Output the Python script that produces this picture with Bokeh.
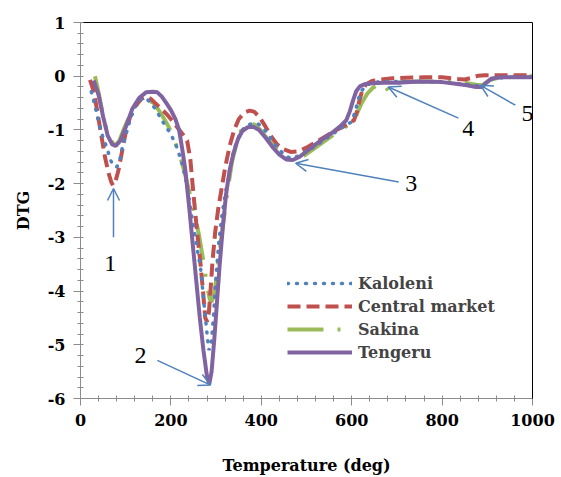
from bokeh.plotting import figure
from bokeh.models import (Range1d, SingleIntervalTicker, FixedTicker, LinearAxis, Legend, LegendItem,
                          Arrow, OpenHead, ColumnDataSource)
from bokeh.core.properties import value
from bokeh.embed import file_html
from bokeh.resources import INLINE

# ---------------- data ----------------
kaloleni_x = [24, 32, 40, 50, 59, 66, 72, 80, 86, 92, 100, 110, 122, 135, 145, 155, 165, 172, 180, 190,
              200, 212, 224, 235, 246, 256, 266, 274, 280, 284, 289, 294, 300, 306, 312, 320, 328, 336,
              345, 355, 367, 380, 392, 405, 420, 438, 455, 470, 490, 520, 550, 580, 600, 608, 615, 622,
              632, 645, 665, 700, 750, 800, 840, 870, 888, 900, 915, 950, 1000]
kaloleni_y = [-0.29, -0.55, -0.85, -1.15, -1.35, -1.55, -1.66, -1.69, -1.6, -1.35, -1.1, -0.8, -0.55,
              -0.42, -0.4, -0.5, -0.6, -0.7, -0.82, -0.95, -1.08, -1.3, -1.6, -2.0, -2.6, -3.1, -3.6,
              -4.3, -4.8, -5.1, -5.0, -4.5, -3.7, -3.1, -2.65, -2.2, -1.85, -1.5, -1.22, -1.03, -0.92,
              -0.88, -0.88, -0.97, -1.15, -1.35, -1.5, -1.53, -1.45, -1.3, -1.12, -0.95, -0.85, -0.65,
              -0.42, -0.27, -0.17, -0.12, -0.1, -0.1, -0.1, -0.11, -0.14, -0.17, -0.18, -0.1, -0.04,
              -0.02, -0.02]

central_x = [21, 30, 38, 46, 54, 62, 68, 72, 77, 84, 92, 100, 110, 122, 135, 145, 155, 165, 178, 190,
             202, 214, 226, 236, 243, 250, 258, 265, 271, 276, 280, 284, 288, 292, 298, 305, 312, 320,
             330, 340, 350, 362, 374, 384, 395, 408, 420, 435, 450, 465, 480, 500, 530, 560, 590, 605,
             612, 618, 624, 632, 645, 665, 690, 720, 760, 800, 835, 850, 865, 880, 895, 930, 1000]
central_y = [-0.07, -0.3, -0.7, -1.1, -1.5, -1.8, -1.97, -2.03, -1.97, -1.75, -1.4, -1.05, -0.75, -0.55,
             -0.42, -0.38, -0.42, -0.5, -0.6, -0.7, -0.82, -0.95, -1.08, -1.2, -1.55, -2.2, -2.9, -3.45,
             -4.0, -4.5, -4.57, -4.4, -3.95, -3.45, -2.9, -2.45, -2.1, -1.7, -1.3, -1.0, -0.8, -0.68,
             -0.64, -0.66, -0.75, -0.92, -1.1, -1.27, -1.36, -1.41, -1.4, -1.33, -1.18, -1.03, -0.9,
             -0.82, -0.65, -0.42, -0.25, -0.15, -0.09, -0.06, -0.04, -0.03, -0.02, -0.02, -0.05, -0.06,
             -0.03, 0.01, 0.02, 0.02, 0.02]

sakina_x = [32, 40, 48, 56, 64, 72, 78, 86, 95, 108, 122, 136, 150, 162, 172, 182, 195, 208, 221, 232,
            242, 252, 262, 272, 280, 286, 290, 296, 303, 310, 318, 326, 335, 345, 355, 365, 374, 385,
            398, 412, 428, 445, 462, 478, 495, 520, 550, 580, 600, 608, 614, 622, 634, 646, 658, 670,
            682, 695, 710, 750, 800, 850, 875, 890, 905, 930, 1000]
sakina_y = [0.0, -0.3, -0.65, -0.95, -1.15, -1.25, -1.28, -1.2, -1.0, -0.75, -0.55, -0.45, -0.45, -0.5,
            -0.62, -0.75, -0.94, -1.2, -1.5, -1.85, -2.2, -2.55, -2.95, -3.45, -3.9, -4.15, -4.2, -4.05,
            -3.6, -3.1, -2.6, -2.1, -1.6, -1.25, -1.02, -0.9, -0.87, -0.9, -1.0, -1.15, -1.3, -1.45,
            -1.55, -1.55, -1.48, -1.33, -1.15, -0.97, -0.88, -0.78, -0.65, -0.5, -0.33, -0.22, -0.16,
            -0.13, -0.28, -0.14, -0.11, -0.1, -0.1, -0.12, -0.16, -0.17, -0.07, -0.02, 0.0]

tengeru_x = [29, 40, 50, 60, 70, 78, 88, 100, 115, 130, 145, 160, 170, 180, 190, 200, 210, 218, 225,
             232, 240, 248, 256, 264, 272, 280, 285, 290, 296, 302, 308, 315, 322, 330, 338, 348, 358,
             370, 382, 395, 410, 425, 440, 455, 470, 485, 500, 520, 540, 560, 575, 588, 596, 603, 610,
             618, 628, 645, 670, 700, 750, 800, 830, 855, 875, 888, 898, 910, 930, 960, 1000]
tengeru_y = [-0.08, -0.35, -0.75, -1.1, -1.27, -1.3, -1.2, -0.95, -0.6, -0.4, -0.3, -0.29, -0.3, -0.38,
             -0.5, -0.63, -0.8, -1.0, -1.35, -1.75, -2.4, -3.1, -3.8, -4.5, -5.1, -5.6, -5.73, -5.5,
             -4.9, -4.2, -3.5, -2.8, -2.2, -1.75, -1.45, -1.18, -1.02, -0.95, -0.94, -1.0, -1.15, -1.32,
             -1.46, -1.55, -1.56, -1.5, -1.4, -1.27, -1.15, -1.03, -0.93, -0.82, -0.65, -0.45, -0.28,
             -0.19, -0.15, -0.13, -0.12, -0.12, -0.1, -0.11, -0.14, -0.17, -0.2, -0.2, -0.12, -0.04,
             -0.02, -0.02, -0.02]

series_names = ["Kaloleni", "Central market", "Sakina", "Tengeru"]

x_ticks = [0, 200, 400, 600, 800, 1000]
y_ticks = [-6, -5, -4, -3, -2, -1, 0, 1]
x_title = "Temperature (deg)"
y_title = "DTG"

# peak annotations (arrow start -> arrow tip, label position)
ann_labels = ["1", "2", "3", "4", "5"]
arrow_x0 = [73, 170, 704, 836, 962]
arrow_y0 = [-3.0, -5.29, -1.97, -0.78, -0.54]
arrow_x1 = [73, 288, 476, 681, 885]
arrow_y1 = [-2.09, -5.75, -1.62, -0.2, -0.17]
label_x = [66, 133, 732, 858, 989]
label_y = [-3.48, -5.2, -2.0, -0.97, -0.69]

# ---------------- figure ----------------
SERIF_B = "DejaVu Serif"
SERIF = "Liberation Serif"
AXIS_GRAY = "#8c8c8c"

p = figure(width=561, height=477, output_backend="svg", toolbar_location=None,
           x_range=Range1d(0, 1000), y_range=Range1d(-6, 1),
           min_border_left=80, min_border_right=29, min_border_top=22, min_border_bottom=79)
p.background_fill_color = "white"
p.border_fill_color = "white"
p.outline_line_color = None
p.xgrid.visible = False
p.ygrid.visible = False

p.xaxis.ticker = SingleIntervalTicker(interval=200, num_minor_ticks=5)
p.yaxis.ticker = SingleIntervalTicker(interval=1, num_minor_ticks=5)
p.yaxis.major_label_overrides = {v: str(v) for v in y_ticks}
p.xaxis.major_label_overrides = {v: str(v) for v in x_ticks}

for ax in (p.xaxis[0], p.yaxis[0]):
    ax.axis_line_color = AXIS_GRAY
    ax.major_tick_line_color = AXIS_GRAY
    ax.minor_tick_line_color = AXIS_GRAY
    ax.major_tick_in = 0
    ax.major_tick_out = 7
    ax.minor_tick_in = 3
    ax.minor_tick_out = 3
    ax.major_label_text_font = SERIF_B
    ax.major_label_text_font_style = "bold"
    ax.major_label_text_font_size = "16px"
    ax.major_label_text_color = "black"
    ax.axis_label_text_font = SERIF_B
    ax.axis_label_text_font_style = "bold"
    ax.axis_label_text_font_size = "16px"
    ax.axis_label_text_color = "black"

p.xaxis.axis_label = x_title
p.xaxis.major_label_standoff = 8
p.xaxis.axis_label_standoff = 27
p.yaxis.axis_label = y_title
p.yaxis.major_label_standoff = 8
p.yaxis.axis_label_standoff = 12

# black border on top and right
for side in ("above", "right"):
    ax = LinearAxis(axis_line_color="black", ticker=FixedTicker(ticks=[]),
                    major_tick_line_color=None, minor_tick_line_color=None, major_label_standoff=0)
    p.add_layout(ax, side)

# ---------------- series ----------------
r_sak = p.line(sakina_x, sakina_y, line_color="#9bbb59", line_width=4, line_dash="36 14 3 14")
r_cen = p.line(central_x, central_y, line_color="#c0504d", line_width=4, line_dash="13 6")
r_kal = p.line(kaloleni_x, kaloleni_y, line_color="#4f81bd", line_width=3.5, line_dash="1 8",
               line_cap="round")
r_ten = p.line(tengeru_x, tengeru_y, line_color="#8064a2", line_width=4)

legend = Legend(items=[LegendItem(label=series_names[0], renderers=[r_kal]),
                       LegendItem(label=series_names[1], renderers=[r_cen]),
                       LegendItem(label=series_names[2], renderers=[r_sak]),
                       LegendItem(label=series_names[3], renderers=[r_ten])],
                location=(207, 36))
legend.background_fill_alpha = 0
legend.border_line_color = None
legend.label_text_font = SERIF_B
legend.label_text_font_style = "bold"
legend.label_text_font_size = "16px"
legend.glyph_width = 65
legend.glyph_height = 20
legend.label_height = 20
legend.spacing = 3
legend.padding = 0
legend.margin = 0
legend.label_standoff = 6
p.add_layout(legend)

# ---------------- annotations ----------------
ARROW_C = "#4f81bd"
asrc = ColumnDataSource(dict(x0=arrow_x0, y0=arrow_y0, x1=arrow_x1, y1=arrow_y1))
p.add_layout(Arrow(end=OpenHead(size=12, line_color=ARROW_C, line_width=1.5),
                   source=asrc, x_start="x0", y_start="y0", x_end="x1", y_end="y1",
                   line_color=ARROW_C, line_width=1.5))
p.text(x=label_x, y=label_y, text=ann_labels, text_font=value(SERIF), text_font_size="24px",
       text_align="center", text_baseline="middle", text_color="black")

open("out.html", "w").write(file_html(p, INLINE))
